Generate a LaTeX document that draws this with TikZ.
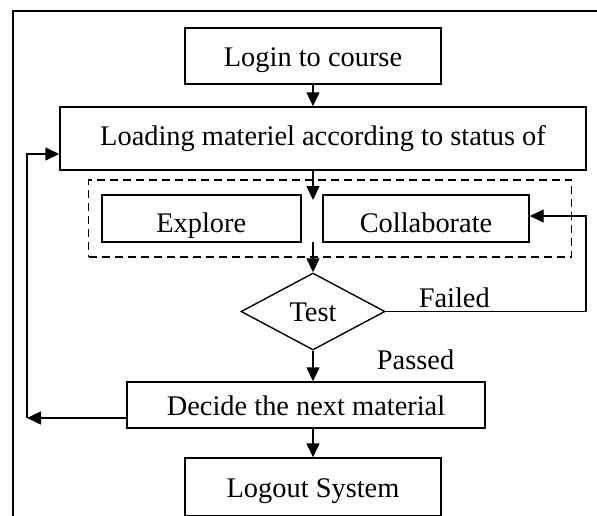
\documentclass[tikz,border=0pt]{standalone}
\usepackage{fontspec}
\setmainfont{Liberation Serif}
\usepackage{tikz}
\usetikzlibrary{positioning,arrows.meta,shapes.geometric}

\begin{document}
\begin{tikzpicture}[x=1pt, y=-1pt,
  procbox/.style={draw, line width=1.4pt, inner sep=0pt, text height=20pt, text depth=0pt,
    font=\fontsize{28.4}{32}\selectfont},
  decision/.style={diamond, draw, line width=1.4pt, inner sep=0pt, text height=20pt, text depth=0pt,
    font=\fontsize{28.4}{32}\selectfont},
  groupbox/.style={draw, line width=1.4pt, dash pattern=on 8pt off 5pt, inner sep=0pt},
  flow/.style={-{Triangle[length=14pt, width=13pt]}, line width=1.4pt},
  lbl/.style={anchor=base west, inner sep=0pt, font=\fontsize{28.4}{32}\selectfont}]

\clip (0,0) rectangle (597,515);
% outer frame, runs off the page on the right and bottom
\draw[line width=2.2pt] (13.3,10.7) rectangle (650,560);

\node[groupbox, minimum width=483pt, minimum height=77pt] (tasks) at (330.1,218.5) {};

\node[procbox, minimum width=256pt, minimum height=56pt] (login) at (313,56) {Login to course};
\node[procbox, minimum width=526pt, minimum height=63pt, text depth=7pt] (loading) at (323,138.5) {Loading materiel according to status of};
\node[procbox, minimum width=199pt, minimum height=47pt, text height=27pt] (explore) at (201.3,218.5) {Explore};
\node[procbox, minimum width=206pt, minimum height=47pt, text height=27pt] (collaborate) at (426,218.5) {Collaborate};
\node[decision, minimum width=144pt, minimum height=77pt] (test) at (313,311.5) {Test};
\node[procbox, minimum width=358pt, minimum height=46pt] (decide) at (306,405) {Decide the next material};
\node[procbox, minimum width=256pt, minimum height=58pt] (logout) at (313,487) {Logout System};

\node[lbl] (failed) at (418.6,307) {Failed};
\node[lbl] (passed) at (376.7,369) {Passed};

% bends and free ends of the connectors
\coordinate (gapin) at (313,200);
\coordinate (gapout) at (313,242);
\coordinate (failturn) at (586,216);
\coordinate (backlow) at (27,418);
\coordinate (backhigh) at (27,154);

\draw[flow] (login.south) -- (login.south |- loading.north);
\draw[flow] (login.south |- loading.south) -- (gapin);
\draw[flow] (gapout) -- (test.north);
\draw[flow] (test.south) -- (test.south |- decide.north);
\draw[flow] (logout.north |- decide.south) -- (logout.north);

% loop back on a failed test
\draw[flow] (test.east) -| (failturn) -- (collaborate.east |- failturn);
% back to the start with the next material
\draw[flow] (decide.west |- backlow) -- (backlow);
\draw[flow] (backlow) -- (backhigh) -- (loading.west |- backhigh);

\end{tikzpicture}
\end{document}
